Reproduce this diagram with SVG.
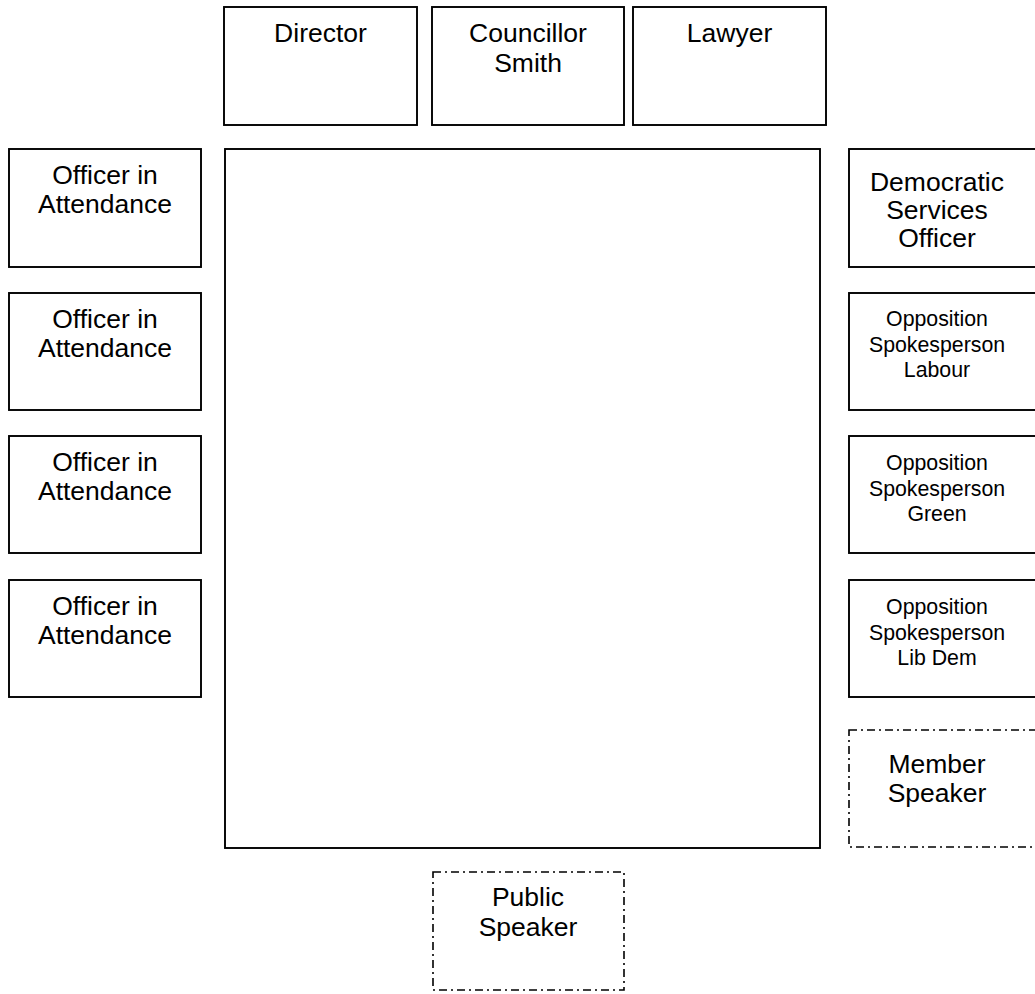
<svg xmlns="http://www.w3.org/2000/svg" width="1035" height="994" viewBox="0 0 1035 994">
<style>
.b{fill:#fff;stroke:#000;stroke-width:1.9}
.d{fill:#fff;stroke:#000;stroke-width:1.6;stroke-dasharray:8 4 2 4}
.t{font-family:"Liberation Sans",Arial,sans-serif;font-size:26.5px;fill:#000;text-anchor:middle}
.s{font-family:"Liberation Sans",Arial,sans-serif;font-size:21.3px;fill:#000;text-anchor:middle}
</style>
<rect width="1035" height="994" fill="#fff"/>
<g id="table"><rect class="b" x="225" y="149" width="595" height="699"/></g>
<g id="director"><rect class="b" x="224" y="7" width="193" height="118"/><text class="t" x="320.5" y="42">Director</text></g>
<g id="councillor-smith"><rect class="b" x="432" y="7" width="192" height="118"/><text class="t" x="528" y="42">Councillor</text><text class="t" x="528" y="72">Smith</text></g>
<g id="lawyer"><rect class="b" x="633" y="7" width="193" height="118"/><text class="t" x="729.5" y="42">Lawyer</text></g>
<g id="officer1"><rect class="b" x="9" y="149" width="192" height="118"/><text class="t" x="105" y="184">Officer in</text><text class="t" x="105" y="213">Attendance</text></g>
<g id="officer2"><rect class="b" x="9" y="293" width="192" height="117"/><text class="t" x="105" y="328">Officer in</text><text class="t" x="105" y="357">Attendance</text></g>
<g id="officer3"><rect class="b" x="9" y="436" width="192" height="117"/><text class="t" x="105" y="471">Officer in</text><text class="t" x="105" y="500">Attendance</text></g>
<g id="officer4"><rect class="b" x="9" y="580" width="192" height="117"/><text class="t" x="105" y="615">Officer in</text><text class="t" x="105" y="644">Attendance</text></g>
<g id="dso"><rect class="b" x="849" y="149" width="192" height="118"/><text class="t" x="937" y="191">Democratic</text><text class="t" x="937" y="219">Services</text><text class="t" x="937" y="247">Officer</text></g>
<g id="opp-labour"><rect class="b" x="849" y="293" width="192" height="117"/><text class="s" x="937" y="326">Opposition</text><text class="s" x="937" y="352">Spokesperson</text><text class="s" x="937" y="377">Labour</text></g>
<g id="opp-green"><rect class="b" x="849" y="436" width="192" height="117"/><text class="s" x="937" y="470">Opposition</text><text class="s" x="937" y="496">Spokesperson</text><text class="s" x="937" y="521">Green</text></g>
<g id="opp-libdem"><rect class="b" x="849" y="580" width="192" height="117"/><text class="s" x="937" y="614">Opposition</text><text class="s" x="937" y="640">Spokesperson</text><text class="s" x="937" y="665">Lib Dem</text></g>
<g id="member-speaker"><rect class="d" x="849" y="730" width="192" height="117"/><text class="t" x="937" y="773">Member</text><text class="t" x="937" y="802">Speaker</text></g>
<g id="public-speaker"><rect class="d" x="433" y="872" width="191" height="118"/><text class="t" x="528" y="906">Public</text><text class="t" x="528" y="936">Speaker</text></g>
<g id="connectors"/>
</svg>
